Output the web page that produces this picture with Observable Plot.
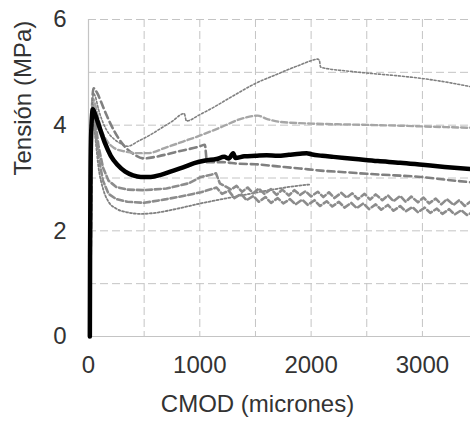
<!DOCTYPE html>
<html>
<head>
<meta charset="utf-8">
<script src="https://cdn.jsdelivr.net/npm/d3@7"></script>
<script src="https://cdn.jsdelivr.net/npm/@observablehq/plot@0.6"></script>
<style>
  html, body { margin: 0; padding: 0; background: #fff; }
  #chart svg { display: block; }
</style>
</head>
<body>
<div id="chart"></div>
<script>
// Tick labels and axis titles
const xTicks = [0, 1000, 2000, 3000];
const yTicks = [0, 2, 4, 6];
const xGrid = [500, 1000, 1500, 2000, 2500, 3000];
const yGrid = [1, 2, 3, 4, 5, 6];
const xTitle = "CMOD (micrones)";
const yTitle = "Tensión (MPa)";

// Mean curve (black)
const meanCurve = [[12,0],[14,1.5],[18,3],[25,3.9],[39,4.3],[60,4.2],[100,3.95],[150,3.65],[200,3.42],[260,3.25],[330,3.12],[400,3.05],[470,3.02],[560,3.02],[650,3.06],[750,3.13],[850,3.2],[950,3.28],[1050,3.33],[1150,3.36],[1220,3.4],[1260,3.37],[1300,3.47],[1320,3.38],[1400,3.41],[1500,3.42],[1600,3.43],[1700,3.42],[1800,3.44],[1900,3.46],[1960,3.47],[2000,3.45],[2100,3.42],[2200,3.4],[2400,3.36],[2600,3.32],[2800,3.29],[3000,3.25],[3200,3.21],[3430,3.17]];

// Specimen A (thin dotted, top)
const specA = [[15,0],[28,4.0],[45,4.6],[60,4.55],[90,4.3],[130,4.05],[180,3.85],[240,3.72],[300,3.64],[350,3.6],[450,3.7],[550,3.81],[650,3.94],[750,4.07],[860,4.22],[880,4.08],[1000,4.2],[1100,4.31],[1280,4.53],[1500,4.79],[1700,4.97],[1900,5.14],[2000,5.22],[2060,5.25],[2075,5.22],[2085,5.1],[2175,5.06],[2300,5.03],[2535,4.98],[2800,4.93],[3010,4.88],[3200,4.82],[3430,4.73]];

// Specimen B (light dashed)
const specB = [[15,0],[28,4.0],[42,4.5],[70,4.3],[110,3.95],[160,3.72],[230,3.57],[330,3.5],[440,3.47],[530,3.47],[700,3.58],[850,3.69],[1010,3.81],[1200,3.97],[1370,4.12],[1520,4.18],[1600,4.12],[1726,4.06],[2000,4.03],[2400,4.01],[2800,3.99],[3100,3.97],[3430,3.95]];

// Specimen C (dark dashed, then noisy below the mean)
const specC = [[15,0],[28,4.1],[45,4.7],[80,4.6],[111,4.45],[160,4.2],[228,3.9],[300,3.66],[408,3.45],[500,3.37],[600,3.4],[800,3.5],[1000,3.6],[1045,3.63],[1065,3.3],[1200,3.3],[1350,3.27],[1500,3.26],[1700,3.22],[1900,3.18],[2085,3.14],[2300,3.11],[2500,3.08],[2750,3.05],[2985,3.02],[3200,2.97],[3430,2.92]];

// Specimen D (dark dashed, noisy tail)
const specD = [[15,0],[28,4.0],[40,4.4],[60,4.1],[90,3.6],[130,3.2],[180,2.95],[250,2.83],[350,2.78],[500,2.77],[700,2.8],[900,2.9],[1010,3.02],[1100,3.06],[1145,3.09],[1180,2.9],[1230,2.84],[1280,2.78],[1330,2.85],[1380,2.74],[1430,2.82],[1480,2.71],[1530,2.8],[1580,2.7],[1640,2.79],[1690,2.68],[1740,2.78],[1800,2.67],[1850,2.77],[1900,2.68],[1950,2.75],[2000,2.65],[2060,2.74],[2110,2.64],[2160,2.73],[2210,2.62],[2270,2.72],[2320,2.63],[2370,2.71],[2420,2.6],[2480,2.7],[2530,2.59],[2580,2.69],[2640,2.58],[2690,2.67],[2740,2.56],[2800,2.66],[2850,2.55],[2900,2.65],[2960,2.54],[3010,2.63],[3060,2.52],[3120,2.61],[3170,2.5],[3220,2.6],[3280,2.49],[3330,2.58],[3380,2.47],[3430,2.55]];

// Specimen E (dark dashed, noisy tail)
const specE = [[15,0],[28,4.0],[40,4.3],[60,3.9],[90,3.4],[130,2.95],[180,2.7],[250,2.6],[350,2.55],[500,2.53],[700,2.6],[850,2.66],[1010,2.73],[1150,2.82],[1200,2.7],[1260,2.76],[1310,2.62],[1370,2.7],[1420,2.58],[1480,2.66],[1530,2.55],[1590,2.64],[1640,2.53],[1700,2.62],[1750,2.52],[1810,2.6],[1860,2.5],[1920,2.59],[1970,2.49],[2030,2.58],[2080,2.47],[2140,2.56],[2190,2.46],[2250,2.55],[2300,2.44],[2360,2.53],[2410,2.43],[2470,2.52],[2520,2.41],[2580,2.5],[2630,2.4],[2690,2.49],[2740,2.38],[2800,2.47],[2850,2.37],[2910,2.45],[2960,2.35],[3020,2.44],[3070,2.34],[3130,2.42],[3180,2.32],[3240,2.41],[3290,2.31],[3350,2.39],[3400,2.3],[3430,2.33]];

// Specimen F (dotted, lowest, ends near 2000)
const specF = [[15,0],[28,3.8],[40,4.2],[60,3.8],[90,3.2],[130,2.8],[180,2.55],[250,2.42],[350,2.35],[470,2.32],[600,2.34],[800,2.42],[1010,2.52],[1200,2.6],[1400,2.68],[1600,2.76],[1800,2.83],[2000,2.88]];

const gray = "#808080";
const lightGray = "#a6a6a6";
const gridColor = "#c4c4c4";
const font = "'Liberation Sans', Arial, Helvetica, sans-serif";

const chart = Plot.plot({
  width: 470,
  height: 423,
  marginLeft: 88,
  marginRight: 0,
  marginTop: 19,
  marginBottom: 87,
  style: { fontFamily: font, fontSize: "24px", background: "#fff", color: "#333" },
  x: { domain: [0, 3432] },
  y: { domain: [0, 6] },
  marks: [
    Plot.gridX(xGrid, { stroke: gridColor, strokeOpacity: 1, strokeDasharray: "8,4", strokeWidth: 1 }),
    Plot.gridY(yGrid, { stroke: gridColor, strokeOpacity: 1, strokeDasharray: "8,4", strokeWidth: 1 }),
    Plot.ruleX([0], { stroke: gridColor, strokeWidth: 1.2 }),
    Plot.ruleY([0], { stroke: gridColor, strokeWidth: 1.2 }),
    Plot.axisX({ ticks: xTicks, tickFormat: d => String(d), tickSize: 0, tickPadding: 19, label: null, fontSize: 24, fill: "#333" }),
    Plot.axisY({ ticks: yTicks, tickFormat: d => String(d), tickSize: 0, tickPadding: 22, label: null, fontSize: 24, fill: "#333" }),
    Plot.line(specF, { x: d => d[0], y: d => d[1], stroke: gray, strokeWidth: 1.8, strokeDasharray: "2,2", curve: "monotone-x" }),
    Plot.line(specE, { x: d => d[0], y: d => d[1], stroke: "#8c8c8c", strokeWidth: 2.6, strokeDasharray: "6,3", curve: "linear" }),
    Plot.line(specD, { x: d => d[0], y: d => d[1], stroke: "#8c8c8c", strokeWidth: 2.6, strokeDasharray: "6,3", curve: "linear" }),
    Plot.line(specC, { x: d => d[0], y: d => d[1], stroke: gray, strokeWidth: 2.6, strokeDasharray: "7,4", curve: "monotone-x" }),
    Plot.line(specB, { x: d => d[0], y: d => d[1], stroke: lightGray, strokeWidth: 2.4, strokeDasharray: "6,3", curve: "monotone-x" }),
    Plot.line(specA, { x: d => d[0], y: d => d[1], stroke: gray, strokeWidth: 1.6, strokeDasharray: "2,2", curve: "monotone-x" }),
    Plot.line(meanCurve, { x: d => d[0], y: d => d[1], stroke: "#000", strokeWidth: 4.5, curve: "monotone-x", strokeLinejoin: "round" }),
    Plot.text([xTitle], { frameAnchor: "bottom", dx: -22, dy: 75, fontSize: 24, fill: "#333", text: d => d }),
    Plot.text([yTitle], { frameAnchor: "left", rotate: -90, dx: -65, dy: -2.5, fontSize: 24, fill: "#333", text: d => d })
  ]
});
document.getElementById("chart").appendChild(chart);
</script>
</body>
</html>
